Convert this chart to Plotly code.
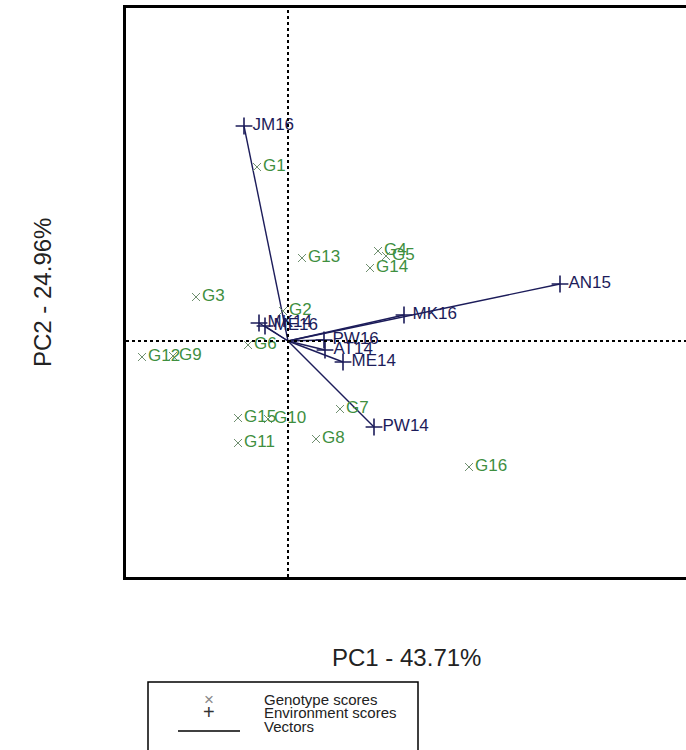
import plotly.graph_objects as go

# Genotype scores (PC1, PC2)
gen_names = ["G1", "G2", "G3", "G4", "G5", "G6", "G7", "G8", "G9", "G10",
             "G11", "G12", "G13", "G14", "G15", "G16"]
gen_pc1 = [-0.62, -0.10, -1.84, 1.80, 1.96, -0.80, 1.04, 0.56, -2.30, -0.40,
           -1.00, -2.92, 0.28, 1.64, -1.00, 3.62]
gen_pc2 = [3.48, 0.60, 0.88, 1.80, 1.70, -0.08, -1.36, -1.96, -0.30, -1.56,
           -2.04, -0.32, 1.66, 1.46, -1.54, -2.52]

# Environment scores (PC1, PC2)
env_names = ["JM16", "AN15", "MK16", "PW16", "AT14", "ME14", "PW14", "MK14", "ME16"]
env_pc1 = [-0.88, 5.44, 2.32, 0.72, 0.74, 1.10, 1.72, -0.58, -0.46]
env_pc2 = [4.30, 1.14, 0.52, 0.02, -0.18, -0.42, -1.72, 0.36, 0.30]

x_title = "PC1 - 43.71%"
y_title = "PC2 - 24.96%"
legend_labels = ["Genotype scores", "Environment scores", "Vectors"]

FONT = "Liberation Sans, Arial, sans-serif"
GREEN = "#3f8f3f"
NAVY = "#1c1c5a"

fig = go.Figure()

# vectors from origin
vx, vy = [], []
for a, b in zip(env_pc1, env_pc2):
    vx += [0, a, None]
    vy += [0, b, None]
fig.add_trace(go.Scatter(x=vx, y=vy, mode="lines",
                         line=dict(color=NAVY, width=1.4), hoverinfo="skip",
                         showlegend=False))

fig.add_trace(go.Scatter(
    x=gen_pc1, y=gen_pc2, mode="markers+text", text=gen_names,
    textposition="middle right",
    textfont=dict(family=FONT, size=17, color=GREEN),
    marker=dict(symbol="x-thin", size=8, line=dict(color="#6f8f6f", width=1)),
    showlegend=False))

fig.add_trace(go.Scatter(
    x=env_pc1, y=env_pc2, mode="markers+text", text=env_names,
    textposition="middle right",
    textfont=dict(family=FONT, size=17, color=NAVY),
    marker=dict(symbol="cross-thin", size=12, line=dict(color=NAVY, width=1.6)),
    showlegend=False))

# plot area in pixels: x 126..686, y 8..577 ; origin at (288, 341), 50 px per unit
L, R, T, B = 126, 686, 8, 577
ox, oy, s = 288, 341, 50.0
xr = [(L - ox) / s, (R - ox) / s]
yr = [(oy - B) / s, (oy - T) / s]

fig.update_xaxes(range=xr, showgrid=False, zeroline=False, showticklabels=False,
                 ticks="", showline=True, linecolor="black", linewidth=2.5, mirror=True)
fig.update_yaxes(range=yr, showgrid=False, zeroline=False, showticklabels=False,
                 ticks="", showline=True, linecolor="black", linewidth=2.5, mirror=False)

# dotted reference lines
fig.add_shape(type="line", xref="x", yref="paper", x0=0, x1=0, y0=0, y1=1,
              line=dict(color="black", width=2, dash="dot"))
fig.add_shape(type="line", xref="paper", yref="y", x0=0, x1=1, y0=0, y1=0,
              line=dict(color="black", width=2, dash="dot"))

W, H = 686, 750
pw, ph = R - L, B - T


def px(xp):
    return (xp - L) / pw


def py(yp):
    return (B - yp) / ph


fig.add_annotation(x=px(406), y=py(657), xref="paper", yref="paper", text=x_title,
                   showarrow=False, font=dict(family=FONT, size=24, color="#222"),
                   xanchor="center", yanchor="middle")
fig.add_annotation(x=px(42), y=py(293), xref="paper", yref="paper", text=y_title,
                   showarrow=False, textangle=-90,
                   font=dict(family=FONT, size=24, color="#222"),
                   xanchor="center", yanchor="middle")

# legend box
fig.add_shape(type="rect", xref="paper", yref="paper", x0=px(148), x1=px(418),
              y0=py(770), y1=py(682), line=dict(color="black", width=1.5))
sym = ["×", "+", ""]
ys = [699, 712, 726]
for sy, lab, yy in zip(sym, legend_labels, ys):
    if sy:
        fig.add_annotation(x=px(209), y=py(yy), xref="paper", yref="paper", text=sy,
                           showarrow=False,
                           font=dict(family=FONT, size=17 if sy == "×" else 20,
                                     color="#888" if sy == "×" else "#333"),
                           xanchor="center", yanchor="middle")
    fig.add_annotation(x=px(262), y=py(yy), xref="paper", yref="paper", text=lab,
                       showarrow=False, font=dict(family=FONT, size=15, color="#222"),
                       xanchor="left", yanchor="middle")
fig.add_shape(type="line", xref="paper", yref="paper", x0=px(178), x1=px(240),
              y0=py(731), y1=py(731), line=dict(color="black", width=1.5))

fig.update_layout(width=W, height=H, margin=dict(l=L, r=W - R, t=T, b=H - B),
                  plot_bgcolor="white", paper_bgcolor="white", showlegend=False)

fig.write_html("out.html")
